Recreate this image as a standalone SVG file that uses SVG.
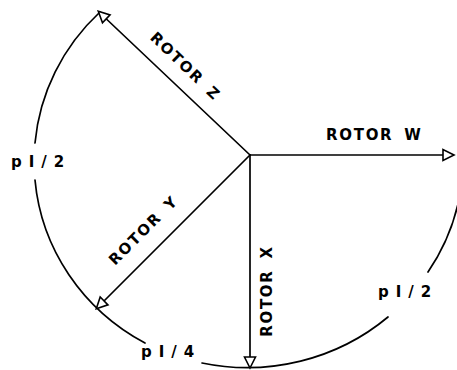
<svg xmlns="http://www.w3.org/2000/svg" width="457" height="370" viewBox="0 0 457 370">
<style>
  .ln { fill: none; stroke: #000; stroke-width: 1.7; stroke-linecap: round; }
  .arrow { marker-end: url(#arr); }
  .lbl { font-family: "DejaVu Sans", "Liberation Sans", sans-serif; font-size: 15px; font-weight: bold; fill: #000; letter-spacing: 1.7px; word-spacing: 4px; }
  .pi { font-family: "DejaVu Sans", "Liberation Sans", sans-serif; font-size: 15px; font-weight: bold; fill: #000; letter-spacing: 7px; }
</style>
<defs>
  <marker id="arr" markerUnits="userSpaceOnUse" markerWidth="16" markerHeight="16" viewBox="-14 -8 16 16" refX="-1" refY="0" orient="auto">
    <path d="M0,0 L-11,-5.5 L-11,5.5 Z" fill="#fff" stroke="#000" stroke-width="1.6"/>
  </marker>
</defs>
<rect width="457" height="370" fill="#fff"/>
<g id="connectors">
  <path class="ln" d="M100,12 A215,207 0 0 0 35,143"/>
  <path class="ln" d="M35,180 A215,207 0 0 0 145,343"/>
  <path class="ln" d="M202,363 A215,207 0 0 0 388,317"/>
  <path class="ln" d="M428,272 A215,207 0 0 0 463,160"/>
  <path class="ln arrow" d="M250,155 L453,155"/>
  <path class="ln arrow" d="M250,155 L250,367"/>
  <path class="ln arrow" d="M250,155 L97,308"/>
  <path class="ln arrow" d="M250,155 L99,12"/>
</g>
<g id="rotor-w"><text class="lbl" x="326" y="140">ROTOR W</text></g>
<g id="rotor-x"><text class="lbl" text-anchor="middle" transform="translate(272,291) rotate(-90)">ROTOR X</text></g>
<g id="rotor-y"><text class="lbl" text-anchor="middle" transform="translate(147,234) rotate(-45)">ROTOR Y</text></g>
<g id="rotor-z"><text class="lbl" text-anchor="middle" transform="translate(182,70) rotate(44)">ROTOR Z</text></g>
<g id="angle-zy"><text class="pi" x="11" y="167">pI/2</text></g>
<g id="angle-yx"><text class="pi" x="141" y="357">pI/4</text></g>
<g id="angle-xw"><text class="pi" x="378" y="297">pI/2</text></g>
</svg>
